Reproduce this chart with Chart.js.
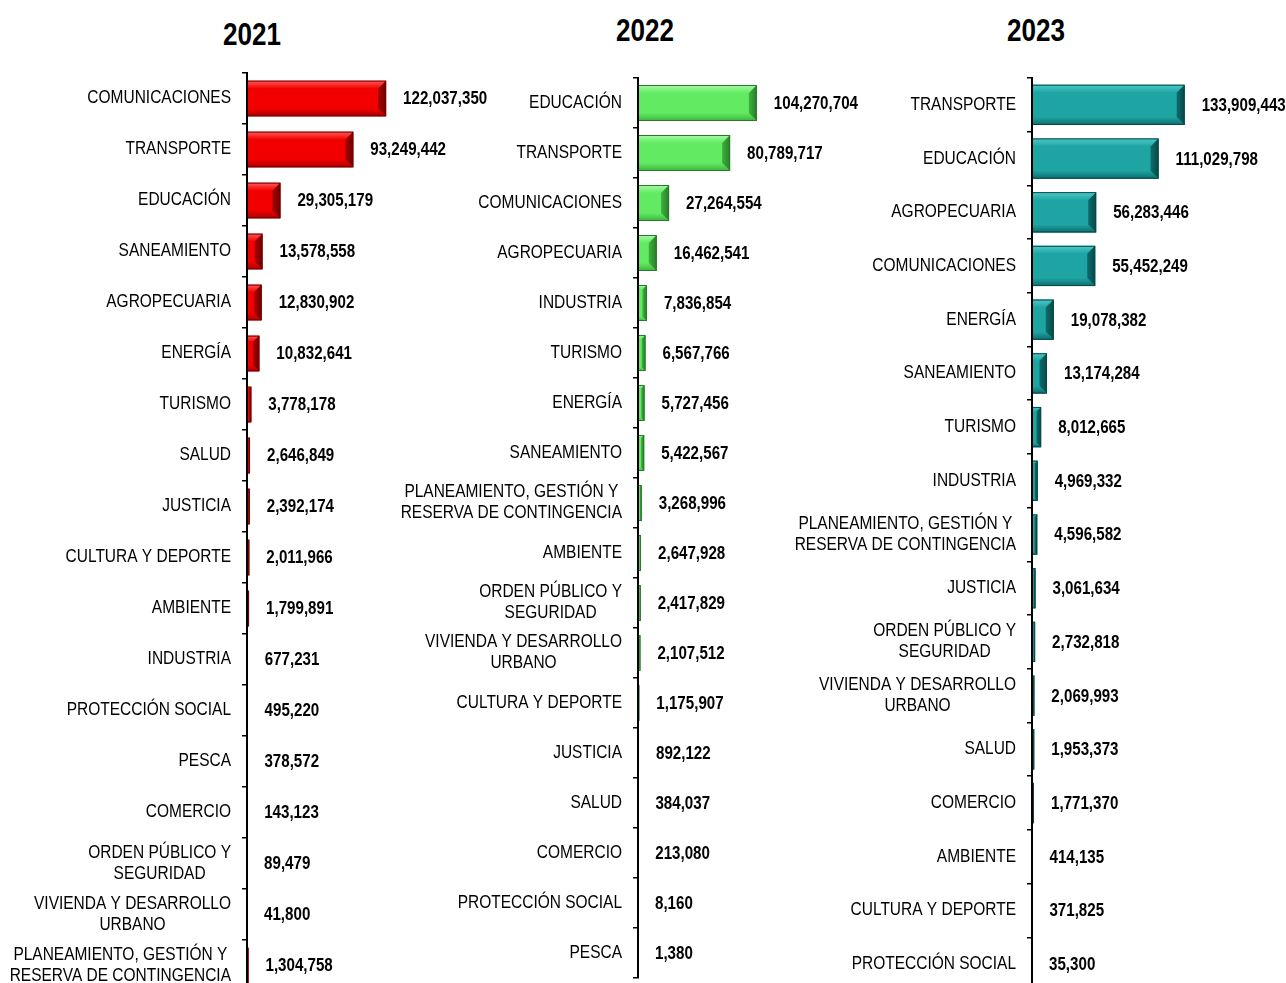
<!DOCTYPE html>
<html>
<head>
<meta charset="utf-8">
<script src="https://cdn.jsdelivr.net/npm/chart.js@4.4.1/dist/chart.umd.min.js"></script>
<style>
    html, body { margin: 0; padding: 0; background: #fff; overflow: hidden; }
    body { width: 1286px; height: 983px; position: relative; }
    .year {
        position: absolute;
        font-family: 'Liberation Sans', Arial, sans-serif;
        font-weight: bold;
        font-size: 31px;
        color: #000;
        transform: translate(-50%, -50%) scaleX(0.84);
    }
    canvas { position: absolute; top: 0; }
</style>
</head>
<body>
<div class="year" style="left:252px; top:35px;">2021</div>
<div class="year" style="left:645px; top:31px;">2022</div>
<div class="year" style="left:1036px; top:31px;">2023</div>
<canvas id="c2021" width="500" height="1000" style="left:0px;"></canvas>
<canvas id="c2022" width="480" height="1000" style="left:390px;"></canvas>
<canvas id="c2023" width="506" height="1000" style="left:780px;"></canvas>
<script>
const FONT = "'Liberation Sans', Arial, sans-serif";
// the original uses a narrow face, squeeze the text to match
const NARROW_VAL = 0.84;
const NARROW_CAT = 0.86;

const cats2021 = ['COMUNICACIONES', 'TRANSPORTE', 'EDUCACIÓN', 'SANEAMIENTO', 'AGROPECUARIA', 'ENERGÍA',
    'TURISMO', 'SALUD', 'JUSTICIA', 'CULTURA Y DEPORTE', 'AMBIENTE', 'INDUSTRIA', 'PROTECCIÓN SOCIAL',
    'PESCA', 'COMERCIO', ['ORDEN PÚBLICO Y', 'SEGURIDAD'], ['VIVIENDA Y DESARROLLO', 'URBANO'],
    ['PLANEAMIENTO, GESTIÓN Y', 'RESERVA DE CONTINGENCIA']];
const vals2021 = [122037350, 93249442, 29305179, 13578558, 12830902, 10832641, 3778178, 2646849, 2392174,
    2011966, 1799891, 677231, 495220, 378572, 143123, 89479, 41800, 1304758];

const cats2022 = ['EDUCACIÓN', 'TRANSPORTE', 'COMUNICACIONES', 'AGROPECUARIA', 'INDUSTRIA', 'TURISMO',
    'ENERGÍA', 'SANEAMIENTO', ['PLANEAMIENTO, GESTIÓN Y', 'RESERVA DE CONTINGENCIA'], 'AMBIENTE',
    ['ORDEN PÚBLICO Y', 'SEGURIDAD'], ['VIVIENDA Y DESARROLLO', 'URBANO'], 'CULTURA Y DEPORTE',
    'JUSTICIA', 'SALUD', 'COMERCIO', 'PROTECCIÓN SOCIAL', 'PESCA'];
const vals2022 = [104270704, 80789717, 27264554, 16462541, 7836854, 6567766, 5727456, 5422567, 3268996,
    2647928, 2417829, 2107512, 1175907, 892122, 384037, 213080, 8160, 1380];

const cats2023 = ['TRANSPORTE', 'EDUCACIÓN', 'AGROPECUARIA', 'COMUNICACIONES', 'ENERGÍA', 'SANEAMIENTO',
    'TURISMO', 'INDUSTRIA', ['PLANEAMIENTO, GESTIÓN Y', 'RESERVA DE CONTINGENCIA'], 'JUSTICIA',
    ['ORDEN PÚBLICO Y', 'SEGURIDAD'], ['VIVIENDA Y DESARROLLO', 'URBANO'], 'SALUD', 'COMERCIO',
    'AMBIENTE', 'CULTURA Y DEPORTE', 'PROTECCIÓN SOCIAL'];
const vals2023 = [133909443, 111029798, 56283446, 55452249, 19078382, 13174284, 8012665, 4969332, 4596582,
    3061634, 2732818, 2069993, 1953373, 1771370, 414135, 371825, 35300];

const palettes = {
    red:   { main: '#f20000', light: '#ff5a5a', dark: '#a80000', end: '#6e0000' },
    green: { main: '#62ea62', light: '#a6fba6', dark: '#3cb43c', end: '#2b7a2b' },
    teal:  { main: '#1fa4a4', light: '#4fcaca', dark: '#0d6c6c', end: '#084848' }
};

function narrowText(ctx, text, x, y, align, sx) {
    ctx.save();
    ctx.translate(x, y);
    ctx.scale(sx, 1);
    ctx.textAlign = align;
    ctx.fillText(text, 0, 0);
    ctx.restore();
}

// draws the bevelled look over each bar, using the bar elements' own geometry
const bevelPlugin = {
    id: 'bevel',
    afterDatasetsDraw(chart) {
        const ctx = chart.ctx;
        const pal = chart.options.plugins.bevel.palette;
        chart.getDatasetMeta(0).data.forEach(bar => {
            const left = bar.base, right = bar.x;
            const top = bar.y - bar.height / 2, bottom = bar.y + bar.height / 2;
            const w = right - left;
            if (w < 1) return;
            const b = Math.min(8, w / 2, bar.height / 4);
            ctx.save();
            // top strip
            let g = ctx.createLinearGradient(0, top, 0, top + b);
            g.addColorStop(0, pal.light);
            g.addColorStop(1, pal.main);
            ctx.fillStyle = g;
            ctx.beginPath();
            ctx.moveTo(left, top); ctx.lineTo(right, top);
            ctx.lineTo(right - b, top + b); ctx.lineTo(left, top + b);
            ctx.closePath(); ctx.fill();
            // bottom strip
            g = ctx.createLinearGradient(0, bottom - b, 0, bottom);
            g.addColorStop(0, pal.main);
            g.addColorStop(1, pal.dark);
            ctx.fillStyle = g;
            ctx.beginPath();
            ctx.moveTo(left, bottom); ctx.lineTo(right, bottom);
            ctx.lineTo(right - b, bottom - b); ctx.lineTo(left, bottom - b);
            ctx.closePath(); ctx.fill();
            // right end
            g = ctx.createLinearGradient(right - b, 0, right, 0);
            g.addColorStop(0, pal.dark);
            g.addColorStop(1, pal.end);
            ctx.fillStyle = g;
            ctx.beginPath();
            ctx.moveTo(right, top); ctx.lineTo(right, bottom);
            ctx.lineTo(right - b, bottom - b); ctx.lineTo(right - b, top + b);
            ctx.closePath(); ctx.fill();
            ctx.strokeStyle = pal.end;
            ctx.lineWidth = 1;
            ctx.strokeRect(left, top + 0.5, w - 0.5, bar.height - 1);
            ctx.restore();
        });
    }
};

// value labels right of each bar + category labels at the y scale ticks
const textPlugin = {
    id: 'texts',
    afterDraw(chart) {
        const ctx = chart.ctx;
        const values = chart.data.datasets[0].data;
        const yScale = chart.scales.y;
        ctx.save();
        ctx.fillStyle = '#000';
        ctx.textBaseline = 'middle';

        ctx.font = 'bold 18px ' + FONT;
        chart.getDatasetMeta(0).data.forEach((bar, i) => {
            narrowText(ctx, values[i].toLocaleString('en-US'), bar.x + 17, bar.y + 1, 'left', NARROW_VAL);
        });

        // labels: block right aligned to the axis, wrapped lines centred inside it
        ctx.font = '18px ' + FONT;
        const xRight = chart.chartArea.left - 16;
        const lh = 21;
        chart.data.labels.forEach((lbl, i) => {
            const yc = yScale.getPixelForTick(i);
            if (!Array.isArray(lbl)) {
                narrowText(ctx, lbl, xRight, yc, 'right', NARROW_CAT);
                return;
            }
            const maxW = Math.max(...lbl.map(s => ctx.measureText(s).width)) * NARROW_CAT;
            const xc = xRight - maxW / 2;
            lbl.forEach((line, k) => {
                const y = yc + (k - (lbl.length - 1) / 2) * lh;
                narrowText(ctx, line, xc, y, 'center', NARROW_CAT);
            });
        });
        ctx.restore();
    }
};

function makeChart(canvasId, labels, values, opts) {
    const ctx = document.getElementById(canvasId).getContext('2d');
    return new Chart(ctx, {
        type: 'bar',
        data: {
            labels: labels,
            datasets: [{
                data: values,
                backgroundColor: palettes[opts.palette].main,
                borderWidth: 0,
                categoryPercentage: 1,
                barPercentage: opts.barPct
            }]
        },
        options: {
            indexAxis: 'y',
            responsive: false,
            devicePixelRatio: 1,
            animation: false,
            layout: {
                padding: { top: opts.top, bottom: opts.bottom, left: 0, right: opts.right }
            },
            scales: {
                x: {
                    display: false,
                    min: 0,
                    max: 200000000
                },
                y: {
                    afterFit: function(scale) { scale.width = opts.axisWidth; },
                    border: { display: true, color: '#000', width: 2, z: 1 },
                    grid: {
                        drawOnChartArea: false,
                        color: '#000',
                        lineWidth: 1.5,
                        tickLength: 5
                    },
                    ticks: { display: false, autoSkip: false }
                }
            },
            plugins: {
                legend: { display: false },
                tooltip: { enabled: false },
                bevel: { palette: palettes[opts.palette] }
            }
        },
        plugins: [bevelPlugin, textPlugin]
    });
}

makeChart('c2021', cats2021, vals2021, { palette: 'red', barPct: 0.7, top: 73, bottom: 9, right: 25, axisWidth: 247 });
makeChart('c2022', cats2022, vals2022, { palette: 'green', barPct: 0.72, top: 78, bottom: 22, right: 4, axisWidth: 248 });
makeChart('c2023', cats2023, vals2023, { palette: 'teal', barPct: 0.75, top: 78, bottom: 9, right: 26, axisWidth: 252 });
</script>
</body>
</html>
